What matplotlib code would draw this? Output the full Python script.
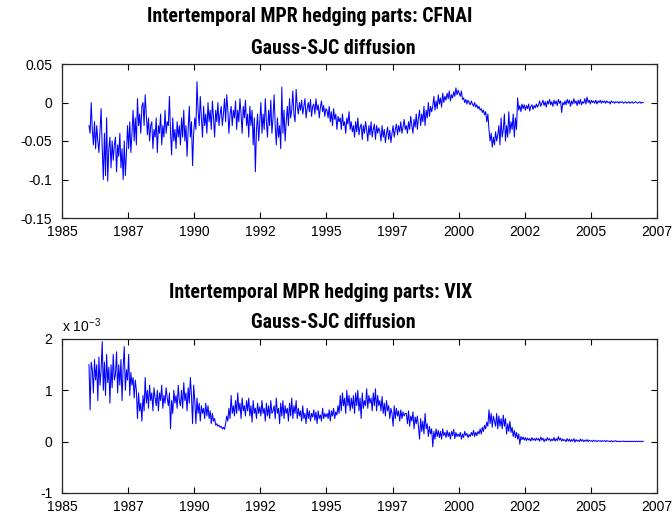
import numpy as np
import matplotlib
matplotlib.use('Agg')
import matplotlib.pyplot as plt
from matplotlib import font_manager as fm

plt.rcParams['font.family'] = ['Liberation Sans', 'DejaVu Sans']

# Semi-monthly values, 1986-2006 (24 per year)
cfnai_hedge = [
    -0.030, -0.040, 0.000, -0.035, -0.055, -0.025, -0.060, -0.030, -0.050, -0.065, -0.035, -0.008,
    -0.060, -0.100, -0.040, -0.095, -0.020, -0.102, -0.060, -0.045, -0.085, -0.050, -0.075, -0.055,
    -0.045, -0.090, -0.055, -0.070, -0.040, -0.085, -0.060, -0.100, -0.050, -0.095, -0.065, -0.030,
    -0.060, -0.025, -0.065, -0.040, -0.010, -0.050, -0.020, -0.055, 0.005, -0.030, -0.015, -0.040,
    -0.005, 0.000, -0.030, 0.010, -0.015, -0.042, -0.020, -0.050, -0.030, -0.025, -0.060, -0.035,
    -0.045, -0.020, -0.065, -0.030, -0.040, -0.015, -0.055, -0.030, -0.045, -0.010, -0.040, -0.025,
    -0.030, 0.008, -0.040, -0.068, -0.020, -0.050, -0.035, -0.060, -0.025, -0.045, -0.030, -0.055,
    -0.020, -0.045, -0.010, -0.050, -0.030, -0.070, -0.035, -0.005, -0.045, -0.025, -0.082, -0.040,
    -0.020, -0.035, 0.027, -0.010, -0.030, 0.008, -0.020, -0.045, -0.005, -0.030, -0.015, -0.040,
    0.000, -0.025, -0.010, -0.035, 0.002, -0.020, -0.045, -0.010, -0.025, 0.000, -0.030, -0.015,
    -0.005, -0.030, -0.015, 0.005, -0.025, 0.010, -0.010, -0.040, -0.015, -0.005, -0.030, -0.010,
    -0.020, 0.002, -0.035, -0.010, -0.025, 0.005, -0.015, -0.040, -0.005, -0.020, 0.003, -0.030,
    -0.015, -0.045, -0.005, -0.030, -0.010, -0.055, -0.020, -0.090, -0.035, -0.015, -0.050, -0.025,
    0.000, -0.040, -0.015, -0.035, 0.005, -0.025, -0.045, -0.010, -0.030, 0.003, -0.040, -0.020,
    0.010, -0.030, -0.055, -0.020, -0.045, -0.030, -0.060, 0.020, -0.040, -0.010, -0.050, -0.025,
    -0.005, -0.030, 0.005, -0.020, -0.010, 0.015, -0.015, -0.025, 0.017, -0.005, -0.015, 0.000,
    -0.010, 0.003, -0.015, -0.005, 0.005, -0.020, -0.008, 0.000, -0.012, 0.004, -0.018, -0.005,
    -0.002, -0.015, 0.005, -0.010, -0.003, -0.020, -0.006, 0.002, -0.012, -0.004, -0.018, -0.008,
    -0.010, -0.020, -0.005, -0.025, -0.012, -0.030, -0.008, -0.022, -0.015, -0.035, -0.018, -0.025,
    -0.020, -0.035, -0.015, -0.030, -0.025, -0.040, -0.020, -0.028, -0.012, -0.035, -0.025, -0.038,
    -0.030, -0.045, -0.025, -0.038, -0.020, -0.042, -0.032, -0.028, -0.048, -0.030, -0.040, -0.025,
    -0.035, -0.050, -0.030, -0.042, -0.025, -0.045, -0.035, -0.028, -0.048, -0.030, -0.040, -0.033,
    -0.038, -0.050, -0.030, -0.045, -0.035, -0.052, -0.040, -0.032, -0.048, -0.036, -0.052, -0.040,
    -0.030, -0.045, -0.035, -0.028, -0.042, -0.030, -0.038, -0.025, -0.040, -0.032, -0.022, -0.035,
    -0.030, -0.040, -0.025, -0.035, -0.018, -0.030, -0.040, -0.022, -0.032, -0.015, -0.035, -0.020,
    -0.010, -0.030, -0.015, -0.025, -0.005, -0.030, -0.010, -0.020, 0.000, -0.018, -0.005, -0.012,
    -0.005, 0.008, -0.010, 0.002, -0.008, 0.010, -0.002, 0.006, -0.006, 0.012, 0.000, 0.008,
    0.003, 0.012, 0.005, 0.015, 0.002, 0.010, 0.006, 0.014, 0.008, 0.019, 0.010, 0.016,
    0.012, 0.008, 0.015, 0.004, 0.006, 0.000, 0.004, -0.002, 0.003, 0.000, -0.003, 0.002,
    -0.002, -0.005, 0.000, -0.006, -0.003, -0.008, -0.005, -0.010, -0.008, -0.013, -0.010, -0.016,
    -0.012, -0.025, -0.015, -0.035, -0.050, -0.040, -0.058, -0.045, -0.055, -0.038, -0.050, -0.042,
    -0.030, -0.055, -0.020, -0.045, -0.035, -0.015, -0.050, -0.030, -0.045, -0.012, -0.040, -0.025,
    -0.035, -0.015, -0.045, -0.020, -0.035, 0.006, -0.010, -0.004, -0.012, -0.002, -0.008, -0.003,
    -0.010, -0.004, -0.008, -0.002, -0.011, -0.005, -0.003, -0.009, -0.004, -0.007, -0.002, -0.006,
    -0.003, 0.002, -0.005, -0.001, 0.003, -0.004, 0.001, -0.006, 0.002, -0.002, 0.004, -0.003,
    0.001, -0.005, 0.003, -0.002, 0.002, -0.004, 0.004, -0.001, 0.002, -0.013, 0.000, -0.003,
    0.002, -0.003, 0.004, -0.001, 0.003, -0.005, 0.002, -0.002, 0.005, -0.001, 0.002, -0.004,
    0.003, -0.002, 0.004, -0.003, 0.001, -0.001, 0.005, -0.002, 0.007, 0.000, 0.003, -0.002,
    0.003, 0.000, 0.002, -0.001, 0.003, -0.002, 0.002, 0.000, 0.003, -0.001, 0.002, 0.000,
    0.002, -0.001, 0.002, 0.000, 0.001, -0.002, 0.002, 0.000, 0.001, -0.001, 0.001, 0.000,
    0.001, -0.001, 0.001, 0.000, 0.001, -0.001, 0.000, 0.001, -0.001, 0.000, 0.001, -0.001,
    0.000, 0.001, -0.001, 0.000, 0.001, 0.000, -0.001, 0.000, 0.001, -0.001, 0.000, 0.000,
]

# in units of 1e-3
vix_hedge = [
    1.50, 0.62, 1.55, 1.40, 0.95, 1.60, 1.20, 1.50, 0.80, 1.65, 1.10, 1.40,
    1.95, 1.00, 1.55, 0.90, 1.70, 1.15, 1.45, 0.75, 1.50, 1.05, 1.70, 1.20,
    1.30, 1.75, 0.95, 1.50, 1.10, 1.60, 0.80, 1.45, 1.85, 1.00, 1.40, 1.20,
    1.70, 0.90, 1.35, 1.10, 1.25, 0.85, 1.20, 1.00, 0.45, 0.95, 0.60, 0.75,
    0.40, 0.90, 0.60, 1.25, 0.75, 1.00, 0.65, 1.10, 0.80, 0.95, 0.60, 1.05,
    0.85, 0.70, 1.00, 0.60, 0.95, 0.80, 1.10, 0.65, 0.90, 0.75, 1.05, 0.85,
    0.70, 0.95, 0.25, 0.80, 0.55, 1.00, 0.75, 0.90, 0.65, 1.10, 0.80, 0.70,
    1.00, 0.65, 1.15, 0.80, 0.95, 0.60, 1.05, 0.75, 1.25, 0.90, 0.35, 1.10,
    0.80, 0.35, 0.85, 0.55, 0.75, 0.40, 0.70, 0.55, 0.65, 0.45, 0.75, 0.50,
    0.70, 0.45, 0.60, 0.35, 0.55, 0.40, 0.45, 0.32, 0.35, 0.30, 0.32, 0.28,
    0.30, 0.25, 0.28, 0.24, 0.35, 0.50, 0.40, 0.65, 0.45, 0.90, 0.55, 0.70,
    0.50, 0.80, 0.55, 0.95, 0.60, 0.75, 0.45, 0.85, 0.60, 0.70, 0.50, 0.80,
    0.60, 0.85, 0.50, 0.70, 0.38, 0.80, 0.55, 0.65, 0.45, 0.75, 0.55, 0.68,
    0.50, 0.80, 0.55, 0.65, 0.40, 0.75, 0.50, 0.70, 0.45, 0.80, 0.55, 0.60,
    0.70, 0.45, 0.85, 0.55, 0.65, 0.35, 0.75, 0.50, 0.80, 0.45, 0.70, 0.55,
    0.65, 0.40, 0.75, 0.50, 0.85, 0.45, 0.70, 0.55, 0.80, 0.45, 0.65, 0.50,
    0.60, 0.40, 0.70, 0.45, 0.55, 0.35, 0.65, 0.45, 0.60, 0.40, 0.55, 0.48,
    0.62, 0.42, 0.58, 0.35, 0.60, 0.45, 0.52, 0.40, 0.65, 0.45, 0.55, 0.48,
    0.55, 0.45, 0.62, 0.40, 0.60, 0.50, 0.65, 0.45, 0.58, 0.52, 0.70, 0.55,
    0.90, 0.60, 0.95, 0.70, 0.85, 0.55, 1.00, 0.70, 0.90, 0.60, 0.85, 0.65,
    0.90, 0.55, 0.95, 0.70, 1.00, 0.60, 0.85, 0.45, 0.95, 0.65, 0.80, 0.70,
    1.03, 0.65, 0.90, 0.75, 0.85, 0.60, 0.95, 0.70, 1.03, 0.60, 0.90, 0.70,
    0.80, 0.60, 0.88, 0.55, 0.75, 0.50, 0.80, 0.60, 0.70, 0.45, 0.65, 0.55,
    0.30, 0.70, 0.45, 0.65, 0.50, 0.60, 0.40, 0.62, 0.45, 0.58, 0.50, 0.55,
    0.55, 0.35, 0.60, 0.30, 0.50, 0.40, 0.58, 0.25, 0.48, 0.35, 0.50, 0.30,
    0.05, 0.45, 0.20, 0.40, 0.15, 0.55, 0.25, 0.35, 0.10, 0.30, 0.15, 0.25,
    -0.10, 0.20, 0.05, 0.25, 0.10, 0.22, 0.08, 0.20, 0.05, 0.25, 0.12, 0.18,
    0.08, 0.22, 0.10, 0.18, 0.05, 0.20, 0.12, 0.24, 0.06, 0.18, 0.10, 0.15,
    0.10, 0.18, 0.05, 0.15, 0.08, 0.20, 0.12, 0.16, 0.08, 0.14, 0.10, 0.18,
    0.12, 0.22, 0.10, 0.18, 0.12, 0.20, 0.15, 0.25, 0.15, 0.28, 0.20, 0.32,
    0.25, 0.38, 0.30, 0.62, 0.35, 0.55, 0.28, 0.50, 0.40, 0.30, 0.55, 0.25,
    0.50, 0.30, 0.45, 0.25, 0.52, 0.30, 0.45, 0.15, 0.35, 0.20, 0.40, 0.18,
    0.28, 0.10, 0.22, 0.08, 0.18, 0.05, 0.15, -0.05, 0.10, 0.04, 0.09, 0.03,
    0.08, 0.02, 0.07, 0.03, 0.06, 0.01, 0.08, 0.03, 0.06, 0.02, 0.07, 0.03,
    0.06, 0.01, 0.09, 0.03, 0.07, 0.00, 0.05, 0.02, 0.08, 0.03, 0.06, 0.01,
    0.05, 0.02, 0.08, 0.01, 0.06, 0.02, 0.10, 0.03, 0.07, 0.01, 0.05, 0.02,
    0.04, 0.00, 0.06, 0.01, 0.05, 0.00, 0.04, 0.01, 0.06, -0.01, 0.04, 0.01,
    0.03, 0.00, 0.05, 0.01, 0.04, 0.00, 0.03, 0.01, 0.04, 0.00, 0.03, 0.01,
    0.02, 0.00, 0.03, 0.01, 0.02, 0.00, 0.02, 0.01, 0.02, 0.00, 0.02, 0.01,
    0.02, 0.00, 0.02, 0.01, 0.01, 0.00, 0.02, 0.00, 0.01, 0.01, 0.02, 0.00,
    0.01, 0.00, 0.01, 0.00, 0.01, 0.01, 0.00, 0.01, 0.00, 0.01, 0.00, 0.01,
    0.00, 0.01, 0.00, 0.01, 0.00, 0.01, 0.00, 0.01, 0.00, 0.01, 0.00, 0.01,
]

start_year = 1986
per_year = 24
x_ticks = [1985, 1987.5, 1990, 1992.5, 1995, 1997.5, 2000, 2002.5, 2005, 2007.5]
x_ticklabels = ['1985', '1987', '1990', '1992', '1995', '1997', '2000', '2002', '2005', '2007']
top_yticks = [-0.15, -0.1, -0.05, 0, 0.05]
top_yticklabels = ['-0.15', '-0.1', '-0.05', '0', '0.05']
bot_yticks = [-1, 0, 1, 2]
bot_yticklabels = ['-1', '0', '1', '2']

t_cfnai = start_year + (np.arange(len(cfnai_hedge)) + 0.5) / per_year
t_vix = start_year + (np.arange(len(vix_hedge)) + 0.5) / per_year


def title_font():
    """Prefer a condensed bold sans (like the original's narrow title face)."""
    def wnum(w):
        if isinstance(w, str):
            return fm.weight_dict.get(w, 400)
        return w
    prefs = ['Liberation Sans Narrow', 'Arial Narrow', 'Roboto Condensed',
             'Noto Sans', 'Open Sans', 'Roboto', 'Open Sans Condensed']
    cands = []
    for f in fm.fontManager.ttflist:
        narrow = ('Narrow' in f.name or 'Condensed' in f.name or
                  f.stretch in ('condensed', 'semi-condensed', 'extra-condensed'))
        if narrow and wnum(f.weight) >= 600 and f.style == 'normal':
            rank = prefs.index(f.name) if f.name in prefs else len(prefs)
            cands.append((rank, abs(wnum(f.weight) - 700), f))
    if cands:
        cands.sort(key=lambda c: (c[0], c[1]))
        return fm.FontProperties(fname=cands[0][2].fname)
    return fm.FontProperties(family='Liberation Sans', weight='bold')


fig = plt.figure(figsize=(6.72, 5.17), dpi=100)
W, H = 672, 517

def style(ax):
    ax.set_xlim(1985, 2007.5)
    ax.set_xticks(x_ticks)
    ax.set_xticklabels(x_ticklabels)
    ax.tick_params(direction='in', top=True, right=True, length=4, width=0.8,
                   labelsize=10, colors='black')
    ax.tick_params(axis='x', pad=5)
    ax.tick_params(axis='y', pad=7)
    for s in ax.spines.values():
        s.set_linewidth(0.9)
        s.set_color('#262626')

ax1 = fig.add_axes([62 / W, 1 - 218 / H, 595 / W, 154 / H])
ax1.plot(t_cfnai, cfnai_hedge, color='#0000ff', lw=0.75)
ax1.set_ylim(-0.15, 0.05)
ax1.set_yticks(top_yticks)
ax1.set_yticklabels(top_yticklabels)
style(ax1)

ax2 = fig.add_axes([62 / W, 1 - 493 / H, 595 / W, 154 / H])
ax2.plot(t_vix, vix_hedge, color='#0000ff', lw=0.75)
ax2.set_ylim(-1, 2)
ax2.set_yticks(bot_yticks)
ax2.set_yticklabels(bot_yticklabels)
style(ax2)

fp = title_font()
fp.set_size(12)
titles = [
    fig.text(472 / W, 1 - 17 / H, 'Intertemporal MPR hedging parts: CFNAI', ha='right', va='center', fontproperties=fp),
    fig.text(416 / W, 1 - 48 / H, 'Gauss-SJC diffusion', ha='right', va='center', fontproperties=fp),
    fig.text(472 / W, 1 - 292 / H, 'Intertemporal MPR hedging parts: VIX', ha='right', va='center', fontproperties=fp),
    fig.text(416 / W, 1 - 323 / H, 'Gauss-SJC diffusion', ha='right', va='center', fontproperties=fp),
]
fig.text(62 / W, 1 - 332 / H, r'x 10$^{\mathregular{-3}}$', ha='left', va='baseline', fontsize=10)

# fit title size so the first line spans the same width as in the original (~324 px)
fig.canvas.draw()
w0 = titles[0].get_window_extent().width
size = min(16.0, 12.0 * 324.0 / w0)
for tx in titles:
    tx.set_fontsize(size)

fig.savefig('out.png', dpi=100)
